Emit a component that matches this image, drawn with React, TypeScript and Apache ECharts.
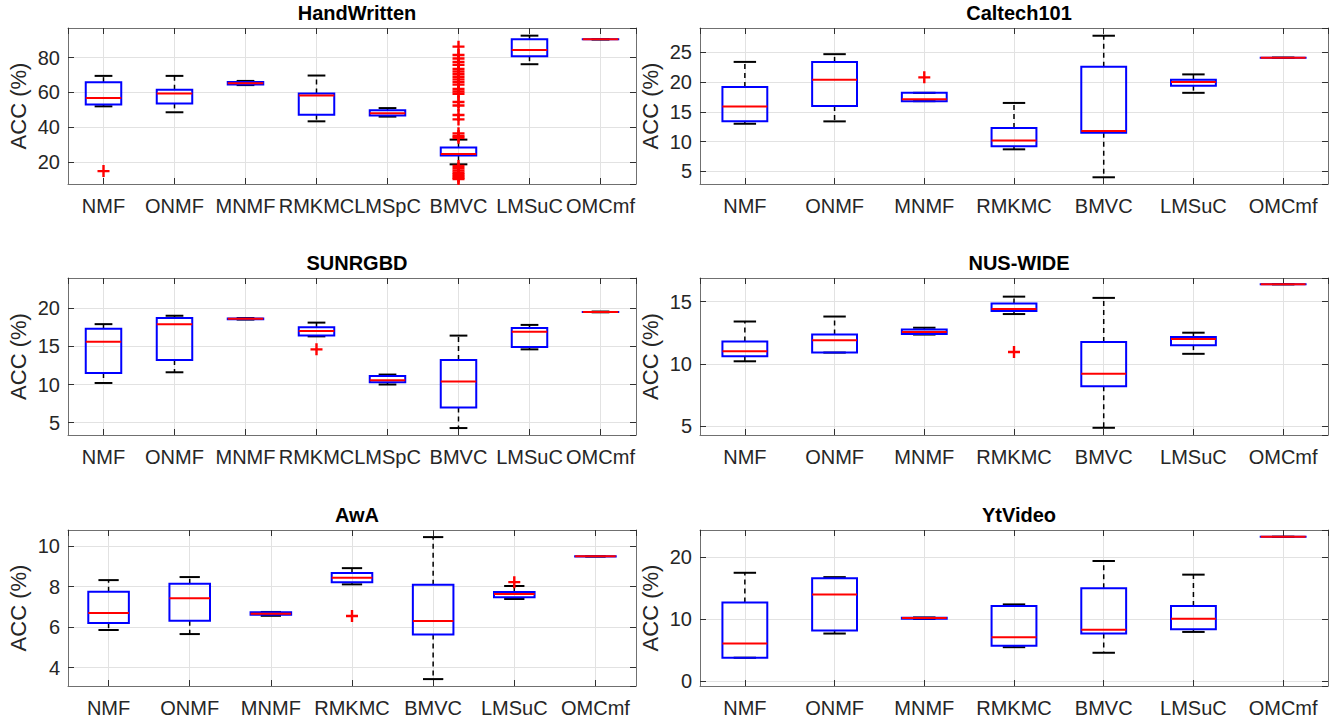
import React, { useEffect, useRef } from "react";
import * as echarts from "echarts";

// ---------- data ----------
const CATS_8 = ["NMF", "ONMF", "MNMF", "RMKMC", "LMSpC", "BMVC", "LMSuC", "OMCmf"];
const CATS_7 = ["NMF", "ONMF", "MNMF", "RMKMC", "BMVC", "LMSuC", "OMCmf"];

// each row: [min whisker, Q1, median, Q3, max whisker]
const HANDWRITTEN_STATS = [
  [52.0, 53.0, 56.8, 65.9, 69.5],
  [48.6, 53.7, 59.4, 61.5, 69.5],
  [64.2, 64.6, 65.3, 66.0, 66.6],
  [43.4, 47.2, 58.3, 59.4, 69.7],
  [46.1, 46.7, 48.0, 49.7, 51.0],
  [18.7, 23.8, 24.6, 28.4, 32.9],
  [76.2, 80.8, 84.4, 90.5, 92.6],
  [90.4, 90.5, 90.5, 90.5, 90.6],
];
const HANDWRITTEN_OUTLIERS = [
  [14.8],
  [],
  [],
  [],
  [],
  [86.3, 81.5, 79.5, 77.5, 75.8, 73.5, 72.0, 70.5, 69.0, 67.5, 66.0, 64.5, 62.0, 60.5, 59.2, 54.5, 52.5, 47.0, 44.5, 36.5, 35.0, 34.0,
    17.8, 16.5, 15.2, 14.0, 13.0, 12.0, 11.0, 10.3],
  [],
  [],
];
const HANDWRITTEN_Y = [7.4, 97.0, 20];

const CALTECH_STATS = [
  [13.0, 13.4, 15.9, 19.2, 23.4],
  [13.4, 16.0, 20.4, 23.4, 24.7],
  [16.8, 16.8, 17.1, 18.2, 18.2],
  [8.7, 9.2, 10.2, 12.3, 16.5],
  [4.0, 11.5, 11.8, 22.6, 27.8],
  [18.2, 19.4, 20.0, 20.4, 21.3],
  [24.1, 24.1, 24.1, 24.1, 24.1],
];
const CALTECH_OUTLIERS = [[], [], [20.8], [], [], [], []];
const CALTECH_Y = [2.87, 29.1, 5];

const SUNRGBD_STATS = [
  [10.2, 11.5, 15.6, 17.3, 17.9],
  [11.6, 13.2, 17.9, 18.7, 19.0],
  [18.5, 18.55, 18.6, 18.65, 18.7],
  [16.3, 16.4, 17.0, 17.5, 18.1],
  [10.0, 10.3, 10.55, 11.1, 11.3],
  [4.3, 7.0, 10.4, 13.2, 16.4],
  [14.6, 14.9, 16.9, 17.4, 17.8],
  [19.45, 19.5, 19.5, 19.5, 19.55],
];
const SUNRGBD_OUTLIERS = [[], [], [], [14.6], [], [], [], []];
const SUNRGBD_Y = [3.39, 23.94, 5];

const NUSWIDE_STATS = [
  [10.2, 10.6, 11.0, 11.8, 13.4],
  [10.9, 10.9, 11.9, 12.35, 13.8],
  [12.35, 12.4, 12.55, 12.75, 12.9],
  [14.0, 14.25, 14.4, 14.85, 15.4],
  [4.85, 8.2, 9.2, 11.75, 15.3],
  [10.8, 11.5, 12.0, 12.15, 12.5],
  [16.4, 16.4, 16.4, 16.4, 16.4],
];
const NUSWIDE_OUTLIERS = [[], [], [], [10.95], [], [], []];
const NUSWIDE_Y = [4.27, 16.9, 5];

const AWA_STATS = [
  [5.86, 6.2, 6.7, 7.75, 8.32],
  [5.66, 6.32, 7.42, 8.14, 8.47],
  [6.56, 6.61, 6.66, 6.73, 6.75],
  [8.11, 8.22, 8.44, 8.67, 8.91],
  [3.44, 5.64, 6.3, 8.09, 10.44],
  [7.39, 7.48, 7.63, 7.73, 8.03],
  [9.49, 9.49, 9.49, 9.49, 9.49],
];
const AWA_OUTLIERS = [[], [], [], [6.55], [], [8.22], []];
const AWA_Y = [3.1, 10.79, 2];

const YTVIDEO_STATS = [
  [3.8, 3.8, 6.1, 12.7, 17.5],
  [7.7, 8.2, 14.0, 16.6, 16.8],
  [10.05, 10.1, 10.2, 10.25, 10.3],
  [5.5, 5.75, 7.1, 12.15, 12.4],
  [4.6, 7.7, 8.3, 15.0, 19.4],
  [7.96, 8.4, 10.1, 12.15, 17.2],
  [23.3, 23.3, 23.3, 23.3, 23.3],
];
const YTVIDEO_OUTLIERS = [[], [], [], [], [], [], []];
const YTVIDEO_Y = [-0.76, 24.4, 10];

const PANELS = [
  { title: "HandWritten", cats: CATS_8, stats: HANDWRITTEN_STATS, outliers: HANDWRITTEN_OUTLIERS, y: HANDWRITTEN_Y },
  { title: "Caltech101", cats: CATS_7, stats: CALTECH_STATS, outliers: CALTECH_OUTLIERS, y: CALTECH_Y },
  { title: "SUNRGBD", cats: CATS_8, stats: SUNRGBD_STATS, outliers: SUNRGBD_OUTLIERS, y: SUNRGBD_Y },
  { title: "NUS-WIDE", cats: CATS_7, stats: NUSWIDE_STATS, outliers: NUSWIDE_OUTLIERS, y: NUSWIDE_Y },
  { title: "AwA", cats: CATS_7, stats: AWA_STATS, outliers: AWA_OUTLIERS, y: AWA_Y },
  { title: "YtVideo", cats: CATS_7, stats: YTVIDEO_STATS, outliers: YTVIDEO_OUTLIERS, y: YTVIDEO_Y },
];

// ---------- layout / style ----------
const COL_LEFT = [68, 700];
const COL_WIDTH = [568, 628];
const ROW_TOP = [28, 278, 530];
const ROW_HEIGHT = [156, 157, 156];
const FONT = "'Liberation Sans', Arial, Helvetica, sans-serif";
const FRAME = "#707070";
const TICK = "#303030";
const GRIDC = "#e2e2e2";
const TXT = "#262626";
const PLUS = "path://M4,0H6V4H10V6H6V10H4V6H0V4H4Z";

function renderBox(params: any, api: any) {
  const x = api.value(0);
  const vMin = api.value(1);
  const q1 = api.value(2);
  const med = api.value(3);
  const q3 = api.value(4);
  const vMax = api.value(5);
  const pMin = api.coord([x, vMin]);
  const pQ1 = api.coord([x, q1]);
  const pMed = api.coord([x, med]);
  const pQ3 = api.coord([x, q3]);
  const pMax = api.coord([x, vMax]);
  const halfBox = api.size([0.5, 0])[0] / 2;
  const halfCap = halfBox / 2;
  const cx = pMed[0];
  const dash = { stroke: "#000", lineWidth: 1.5, lineDash: [5, 4] };
  const cap = { stroke: "#000", lineWidth: 2 };
  return {
    type: "group",
    children: [
      { type: "line", shape: { x1: cx, y1: pQ3[1], x2: cx, y2: pMax[1] }, style: dash },
      { type: "line", shape: { x1: cx, y1: pQ1[1], x2: cx, y2: pMin[1] }, style: dash },
      { type: "line", shape: { x1: cx - halfCap, y1: pMax[1], x2: cx + halfCap, y2: pMax[1] }, style: cap },
      { type: "line", shape: { x1: cx - halfCap, y1: pMin[1], x2: cx + halfCap, y2: pMin[1] }, style: cap },
      {
        type: "rect",
        shape: { x: cx - halfBox, y: pQ3[1], width: halfBox * 2, height: Math.max(pQ1[1] - pQ3[1], 0.01) },
        style: { fill: "none", stroke: "#0000ff", lineWidth: 2 },
      },
      { type: "line", shape: { x1: cx - halfBox, y1: pMed[1], x2: cx + halfBox, y2: pMed[1] }, style: { stroke: "#ff0000", lineWidth: 2 } },
    ],
  };
}

function buildOption() {
  const grid: any[] = [];
  const xAxis: any[] = [];
  const yAxis: any[] = [];
  const series: any[] = [];
  const title: any[] = [];

  PANELS.forEach((p, i) => {
    const col = i % 2;
    const row = Math.floor(i / 2);
    const left = COL_LEFT[col];
    const width = COL_WIDTH[col];
    const top = ROW_TOP[row];
    const height = ROW_HEIGHT[row];
    grid.push({ left, top, width, height, show: false, outerBoundsMode: "none", containLabel: false });
    title.push({
      text: p.title,
      left: left + width / 2,
      top: top - 30,
      textAlign: "center",
      textStyle: { fontFamily: FONT, fontSize: 20, fontWeight: "bold", color: "#000" },
    });
    const n = p.cats.length;
    const cats = p.cats;
    const xBase = {
      type: "value",
      gridIndex: i,
      min: 0.5,
      max: n + 0.5,
      minInterval: 1,
      maxInterval: 1,
      axisLine: { show: true, onZero: false, lineStyle: { color: FRAME, width: 1 } },
      axisTick: { show: true, inside: true, length: 6, lineStyle: { color: TICK, width: 1 } },
    };
    xAxis.push({
      ...xBase,
      position: "bottom",
      axisLabel: {
        show: true,
        margin: 12,
        fontFamily: FONT,
        fontSize: 20,
        color: TXT,
        showMinLabel: false,
        showMaxLabel: false,
        formatter: (v: number) => (Number.isInteger(v) && v >= 1 && v <= n ? cats[v - 1] : ""),
      },
      splitLine: { show: true, lineStyle: { color: GRIDC, width: 1 } },
    });
    xAxis.push({
      ...xBase,
      position: "top",
      axisLabel: { show: false },
      splitLine: { show: false },
    });
    const [ymin, ymax, step] = p.y;
    const yBase = {
      type: "value",
      gridIndex: i,
      min: ymin,
      max: ymax,
      minInterval: step,
      maxInterval: step,
      axisLine: { show: true, onZero: false, lineStyle: { color: FRAME, width: 1 } },
      axisTick: { show: true, inside: true, length: 6, lineStyle: { color: TICK, width: 1 } },
    };
    yAxis.push({
      ...yBase,
      position: "left",
      name: "ACC (%)",
      nameLocation: "middle",
      nameGap: 39,
      nameTextStyle: { fontFamily: FONT, fontSize: 22, color: TXT },
      axisLabel: {
        show: true,
        margin: 8,
        fontFamily: FONT,
        fontSize: 20,
        color: TXT,
        showMinLabel: false,
        showMaxLabel: false,
      },
      splitLine: { show: true, lineStyle: { color: GRIDC, width: 1 } },
    });
    yAxis.push({
      ...yBase,
      position: "right",
      axisLabel: { show: false },
      splitLine: { show: false },
    });

    const boxData = p.stats.map((s, k) => [k + 1, ...s]);
    series.push({
      type: "custom",
      xAxisIndex: i * 2,
      yAxisIndex: i * 2,
      renderItem: renderBox,
      encode: { x: 0, y: [1, 2, 3, 4, 5] },
      data: boxData,
      clip: true,
      z: 3,
    });
    const outData: number[][] = [];
    p.outliers.forEach((arr, k) => arr.forEach((v) => outData.push([k + 1, v])));
    series.push({
      type: "scatter",
      xAxisIndex: i * 2,
      yAxisIndex: i * 2,
      symbol: PLUS,
      symbolSize: 12,
      itemStyle: { color: "#ff0000", opacity: 1 },
      data: outData,
      z: 4,
      clip: true,
    });
  });

  return { animation: false, backgroundColor: "#ffffff", title, grid, xAxis, yAxis, series };
}

export default function App() {
  const ref = useRef<HTMLDivElement>(null);
  useEffect(() => {
    document.body.style.margin = "0";
    if (!ref.current) return;
    const chart = echarts.init(ref.current, null, { renderer: "svg" });
    chart.setOption(buildOption() as any);
    return () => chart.dispose();
  }, []);
  return <div ref={ref} style={{ width: 1331, height: 723 }} />;
}
